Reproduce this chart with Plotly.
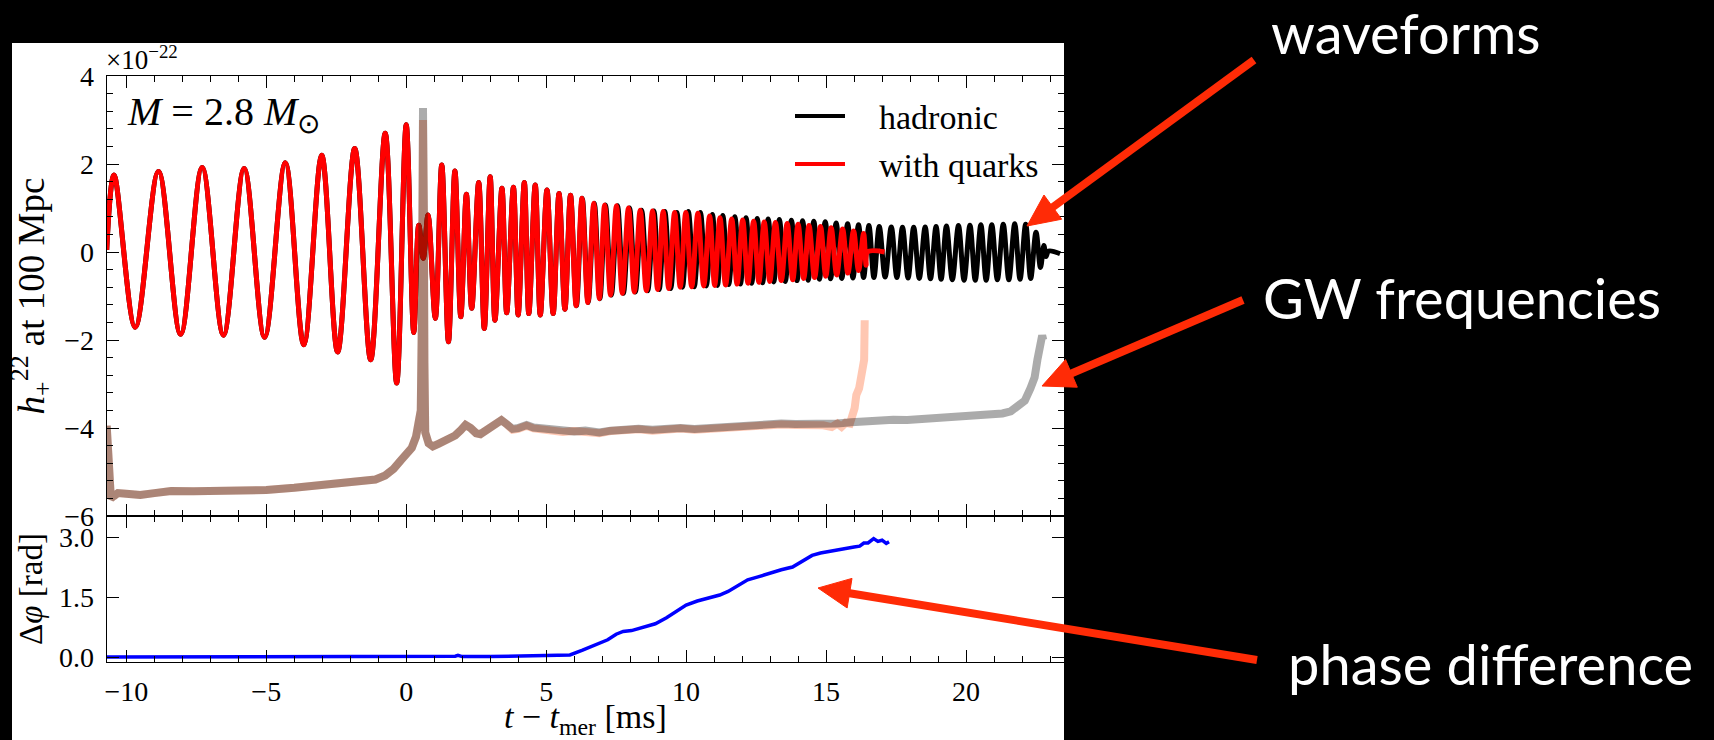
import math
import plotly.graph_objects as go

# ---------------- data ----------------
# shared inspiral + merger part of h+ (extrema), t in ms, h in 1e-22
insp_t = [-10.70, -10.44, -9.68, -8.85, -8.06, -7.29, -6.53, -5.79, -5.06, -4.32,
          -3.66, -3.02, -2.45, -1.84, -1.27, -0.75, -0.34, 0.00, 0.27, 0.45,
          0.61, 0.78, 1.04, 1.27, 1.51, 1.74, 1.95, 2.15, 2.34, 2.59,
          2.79, 3.00, 3.17, 3.42, 3.59, 3.83, 4.00, 4.22, 4.38, 4.61, 4.79]
insp_h = [0.05, 1.75, -1.71, 1.83, -1.87, 1.92, -1.89, 1.90, -1.94, 2.03,
          -2.11, 2.20, -2.27, 2.35, -2.45, 2.70, -2.98, 2.89, -1.83, 0.61,
          -0.14, 0.84, -1.51, 1.98, -2.04, 1.84, -1.47, 1.31, -1.28, 1.58,
          -1.74, 1.71, -1.55, 1.45, -1.38, 1.47, -1.43, 1.58, -1.40, 1.52, -1.43]

# hadronic post-merger extrema
had_t = [5.03, 5.25, 5.46, 5.67, 5.87, 6.08, 6.29, 6.50, 6.72, 6.92,
         7.12, 7.33, 7.55, 7.76, 7.98, 8.19, 8.41, 8.63, 8.85, 9.04,
         9.24, 9.45, 9.67, 9.87, 10.08, 10.29, 10.51, 10.72, 10.94, 11.12,
         11.31, 11.52, 11.74, 11.94, 12.14, 12.34, 12.54, 12.73, 12.93, 13.13,
         13.33, 13.54, 13.76, 13.96, 14.16, 14.36, 14.56, 14.76, 14.97, 15.16,
         15.36, 15.56, 15.77, 15.96, 16.16, 16.34, 16.53, 16.71, 16.90, 17.11,
         17.33, 17.53, 17.73, 17.93, 18.13, 18.33, 18.54, 18.73, 18.93, 19.11,
         19.30, 19.51, 19.73, 19.93, 20.14, 20.33, 20.53, 20.72, 20.92, 21.12,
         21.33, 21.53, 21.74, 21.93, 22.13, 22.31, 22.50, 22.66, 22.78, 22.86,
         22.95, 23.36]
had_h = [1.41, -1.40, 1.33, -1.30, 1.29, -1.22, 1.22, -1.15, 1.11, -1.06,
         1.07, -0.98, 1.05, -0.94, 1.00, -0.91, 0.95, -0.88, 0.93, -0.85,
         0.92, -0.83, 0.90, -0.80, 0.92, -0.79, 0.90, -0.77, 0.85, -0.76,
         0.83, -0.74, 0.80, -0.73, 0.78, -0.71, 0.76, -0.70, 0.75, -0.68,
         0.74, -0.67, 0.72, -0.65, 0.71, -0.64, 0.70, -0.62, 0.69, -0.61,
         0.66, -0.60, 0.64, -0.59, 0.62, -0.58, 0.60, -0.58, 0.58, -0.57,
         0.57, -0.58, 0.56, -0.59, 0.56, -0.60, 0.57, -0.61, 0.58, -0.62,
         0.59, -0.63, 0.60, -0.64, 0.61, -0.64, 0.62, -0.64, 0.62, -0.63,
         0.63, -0.63, 0.64, -0.62, 0.63, -0.60, 0.45, -0.35, 0.15, -0.10,
         0.02, -0.04]

# with-quarks post-merger extrema
qrk_t = [5.03, 5.25, 5.46, 5.67, 5.87, 6.07, 6.28, 6.49, 6.70, 6.90,
         7.09, 7.30, 7.51, 7.72, 7.94, 8.15, 8.36, 8.58, 8.80, 8.98,
         9.18, 9.38, 9.59, 9.79, 9.99, 10.20, 10.42, 10.63, 10.84, 11.02,
         11.21, 11.41, 11.63, 11.82, 12.02, 12.21, 12.41, 12.60, 12.79, 12.99,
         13.19, 13.40, 13.61, 13.81, 14.00, 14.20, 14.39, 14.59, 14.80, 14.99,
         15.18, 15.38, 15.59, 15.78, 15.98, 16.16, 16.34, 16.43, 16.48, 17.09]
qrk_h = [1.41, -1.40, 1.33, -1.30, 1.29, -1.22, 1.22, -1.15, 1.11, -1.06,
         1.07, -0.98, 1.05, -0.94, 1.00, -0.91, 0.95, -0.88, 0.93, -0.85,
         0.92, -0.83, 0.90, -0.80, 0.90, -0.79, 0.88, -0.77, 0.82, -0.76,
         0.78, -0.75, 0.75, -0.73, 0.73, -0.71, 0.70, -0.69, 0.68, -0.67,
         0.67, -0.65, 0.65, -0.63, 0.63, -0.60, 0.60, -0.58, 0.58, -0.55,
         0.55, -0.52, 0.52, -0.48, 0.48, -0.42, 0.42, -0.30, 0.00, 0.00]

# GW frequency curves (plotted in the same panel, arbitrary units)
fhad_t = [-10.70, -10.66, -10.60, -10.55, -10.45, -10.30, -9.90, -9.50, -9.00, -8.40,
          -7.60, -6.80, -6.00, -5.00, -4.00, -3.20, -2.40, -1.60, -1.10, -0.75,
          -0.45, -0.20, 0.05, 0.20, 0.35, 0.45, 0.52, 0.56, 0.58, 0.60,
          0.63, 0.65, 0.68, 0.80, 0.95, 1.15, 1.35, 1.55, 1.75, 1.95,
          2.12, 2.30, 2.50, 2.65, 2.85, 3.05, 3.25, 3.40, 3.60, 3.80,
          4.00, 4.30, 4.55, 4.80, 5.20, 5.60, 6.00, 6.40, 6.90, 7.30,
          7.80, 8.30, 8.80, 9.30, 9.80, 10.30, 10.90, 11.40, 11.90, 12.40,
          12.90, 13.40, 13.90, 14.40, 14.90, 15.40, 15.90, 16.40, 16.90, 17.40,
          17.90, 18.40, 18.90, 19.40, 19.90, 20.40, 20.90, 21.30, 21.60, 21.90,
          22.10, 22.30, 22.45, 22.55, 22.62, 22.68, 22.72, 22.76]
fhad_v = [-3.95, -4.60, -5.45, -5.60, -5.55, -5.48, -5.50, -5.52, -5.48, -5.43,
          -5.44, -5.44, -5.43, -5.41, -5.36, -5.32, -5.28, -5.23, -5.17, -5.08,
          -4.93, -4.74, -4.55, -4.45, -4.20, -3.95, -3.60, -1.50, 1.00, 3.27,
          1.00, -2.50, -4.10, -4.35, -4.42, -4.36, -4.30, -4.26, -4.17, -4.05,
          -3.93, -4.00, -4.12, -4.14, -4.05, -3.98, -3.86, -3.82, -3.92, -4.02,
          -4.00, -3.93, -3.99, -4.01, -4.03, -4.07, -4.08, -4.06, -4.10, -4.06,
          -4.03, -4.02, -4.04, -4.01, -4.00, -4.02, -3.99, -3.98, -3.96, -3.93,
          -3.92, -3.90, -3.91, -3.91, -3.92, -3.90, -3.87, -3.84, -3.80, -3.81,
          -3.82, -3.80, -3.79, -3.76, -3.75, -3.73, -3.70, -3.67, -3.62, -3.50,
          -3.38, -3.10, -2.85, -2.45, -2.20, -1.95, -1.90, -2.00]

fqrk_t = [-10.70, -10.66, -10.60, -10.55, -10.45, -10.30, -9.90, -9.50, -9.00, -8.40,
          -7.60, -6.80, -6.00, -5.00, -4.00, -3.20, -2.40, -1.60, -1.10, -0.75,
          -0.45, -0.20, 0.05, 0.20, 0.35, 0.45, 0.52, 0.56, 0.58, 0.60,
          0.63, 0.65, 0.68, 0.80, 0.95, 1.15, 1.35, 1.55, 1.75, 1.95,
          2.12, 2.30, 2.50, 2.65, 2.85, 3.05, 3.25, 3.40, 3.60, 3.80,
          4.00, 4.30, 4.55, 4.80, 5.20, 5.60, 6.00, 6.40, 6.90, 7.30,
          7.80, 8.30, 8.80, 9.30, 9.80, 10.30, 10.90, 11.40, 11.90, 12.40,
          12.90, 13.40, 13.90, 14.40, 14.90, 15.20, 15.40, 15.55, 15.70, 15.85,
          15.95, 16.02, 16.08, 16.18, 16.25, 16.32, 16.36, 16.37, 16.38]
fqrk_v = [-3.95, -4.60, -5.45, -5.60, -5.55, -5.48, -5.50, -5.52, -5.48, -5.43,
          -5.44, -5.44, -5.43, -5.41, -5.36, -5.32, -5.28, -5.23, -5.17, -5.08,
          -4.93, -4.74, -4.55, -4.45, -4.20, -3.95, -3.60, -1.50, 1.00, 3.00,
          1.00, -2.50, -4.10, -4.35, -4.42, -4.36, -4.30, -4.26, -4.17, -4.05,
          -3.93, -4.00, -4.12, -4.14, -4.05, -3.98, -3.86, -3.82, -3.92, -4.04,
          -4.02, -3.95, -4.01, -4.03, -4.05, -4.09, -4.07, -4.08, -4.12, -4.07,
          -4.05, -4.03, -4.06, -4.02, -4.01, -4.04, -4.01, -3.99, -3.97, -3.95,
          -3.93, -3.92, -3.93, -3.92, -3.94, -3.98, -3.90, -3.97, -3.88, -3.90,
          -3.75, -3.55, -3.25, -3.10, -2.85, -2.62, -2.45, -2.00, -1.55]

# phase difference (rad)
dphi_t = [-10.70, -8.00, -5.00, -2.00, 0.00, 1.50, 1.75, 1.85, 2.00, 3.00,
          4.00, 5.00, 5.50, 5.85, 6.30, 6.90, 7.20, 7.50, 7.75, 8.05,
          8.50, 8.90, 9.30, 9.70, 10.00, 10.40, 10.80, 11.20, 11.50, 11.90,
          12.20, 12.60, 13.00, 13.40, 13.80, 14.10, 14.50, 14.80, 15.20, 15.60,
          16.00, 16.20, 16.35, 16.50, 16.70, 16.85, 17.00, 17.15, 17.25]
dphi_v = [0.00, 0.00, 0.00, 0.00, 0.00, 0.01, 0.02, 0.04, 0.01, 0.01,
          0.02, 0.03, 0.04, 0.05, 0.17, 0.33, 0.43, 0.57, 0.64, 0.66,
          0.74, 0.83, 0.98, 1.17, 1.30, 1.40, 1.48, 1.55, 1.64, 1.80,
          1.93, 2.01, 2.10, 2.18, 2.25, 2.38, 2.54, 2.60, 2.64, 2.70,
          2.75, 2.77, 2.85, 2.85, 2.96, 2.89, 2.92, 2.84, 2.88]

dphi_tickvals = [0.0, 1.5, 3.0]
dphi_ticktext = ["0.0", "1.5", "3.0"]

# ---------------- layout geometry ----------------
W, H = 1714, 740


def px(x):
    return x / W


def py(y):
    return 1 - y / H


X0, X1 = 106.7, 1064
Y_TOP, Y_MID, Y_BOT = 76, 516, 662

SERIF = "Liberation Serif"
TICK = 28
fig = go.Figure()

fig.add_trace(go.Scatter(x=insp_t + had_t, y=insp_h + had_h, name="hadronic",
                         mode="lines", line=dict(color="black", width=5, shape="spline", smoothing=1.0),
                         xaxis="x", yaxis="y"))
fig.add_trace(go.Scatter(x=insp_t + qrk_t, y=insp_h + qrk_h, name="with quarks",
                         mode="lines", line=dict(color="#ff0000", width=5, shape="spline", smoothing=1.0),
                         xaxis="x", yaxis="y"))
fig.add_trace(go.Scatter(x=fqrk_t, y=fqrk_v, name="f quarks", mode="lines",
                         line=dict(color="rgba(255,69,0,0.30)", width=8),
                         xaxis="x", yaxis="y"))
fig.add_trace(go.Scatter(x=fhad_t, y=fhad_v, name="f hadronic", mode="lines",
                         line=dict(color="rgba(0,0,0,0.33)", width=8),
                         xaxis="x", yaxis="y"))
fig.add_trace(go.Scatter(x=dphi_t, y=dphi_v, name="phase difference", mode="lines",
                         line=dict(color="#0000ff", width=3.5),
                         xaxis="x2", yaxis="y2"))

axis_common = dict(showline=True, linecolor="black", linewidth=1.3, mirror="ticks",
                   ticks="inside", ticklen=12, tickwidth=1.3, tickcolor="black",
                   showgrid=False, zeroline=False, automargin=False,
                   tickfont=dict(family=SERIF, size=TICK, color="black"))

fig.update_layout(
    width=W, height=H, margin=dict(l=0, r=0, t=0, b=0, pad=0, autoexpand=False),
    paper_bgcolor="black", plot_bgcolor="white", showlegend=False,
    font=dict(family=SERIF, color="black"),
    xaxis=dict(domain=[px(X0), px(X1)], range=[-10.7, 23.5], anchor="y",
               showticklabels=False, tick0=0, dtick=5,
               minor=dict(ticks="inside", ticklen=6, tickwidth=1.2, tickcolor="black", dtick=1, showgrid=False),
               **axis_common),
    yaxis=dict(domain=[py(Y_MID), py(Y_TOP)], range=[-6, 4], anchor="x",
               tick0=0, dtick=2, ticklabelstandoff=6,
               minor=dict(ticks="inside", ticklen=6, tickwidth=1.2, tickcolor="black", dtick=0.4, showgrid=False),
               title=dict(text="<i>h</i><sub>+</sub><sup>22</sup> at 100 Mpc",
                          font=dict(family=SERIF, size=37, color="black"), standoff=8),
               **axis_common),
    xaxis2=dict(domain=[px(X0), px(X1)], range=[-10.7, 23.5], anchor="y2", matches="x",
                tick0=0, dtick=5, ticklabelstandoff=4,
                minor=dict(ticks="inside", ticklen=6, tickwidth=1.2, tickcolor="black", dtick=1, showgrid=False),
                title=dict(text="<i>t</i> − <i>t</i><sub>mer</sub> [ms]",
                           font=dict(family=SERIF, size=34, color="black"), standoff=4),
                **axis_common),
    yaxis2=dict(domain=[py(Y_BOT), py(Y_MID)], range=[-0.125, 3.525], anchor="x2",
                tickmode="array", tickvals=dphi_tickvals, ticktext=dphi_ticktext,
                ticklabelstandoff=6,
                title=dict(text="Δ<i>φ</i> [rad]",
                           font=dict(family=SERIF, size=33, color="black"), standoff=6),
                **axis_common),
)

shapes = []
# white figure panel on black slide
shapes.append(dict(type="rect", xref="paper", yref="paper", x0=px(12), x1=px(1064),
                   y0=0, y1=py(43), fillcolor="white", line=dict(width=0), layer="below"))
# legend handles
shapes.append(dict(type="line", xref="paper", yref="paper", x0=px(795), x1=px(845),
                   y0=py(116), y1=py(116), line=dict(color="black", width=4)))
shapes.append(dict(type="line", xref="paper", yref="paper", x0=px(795), x1=px(845),
                   y0=py(164), y1=py(164), line=dict(color="#ff0000", width=4)))

ARROW = "#ff2b06"


def arrow(tail, tip, lw=8, hl=32, hw=30):
    dx, dy = tip[0] - tail[0], tip[1] - tail[1]
    L = math.hypot(dx, dy)
    ux, uy = dx / L, dy / L
    bx, by = tip[0] - ux * hl, tip[1] - uy * hl
    nx, ny = -uy, ux
    p1 = (bx + nx * hw / 2, by + ny * hw / 2)
    p2 = (bx - nx * hw / 2, by - ny * hw / 2)
    se = (bx + ux * 3, by + uy * 3)
    line = dict(type="line", xref="paper", yref="paper",
                x0=px(tail[0]), y0=py(tail[1]), x1=px(se[0]), y1=py(se[1]),
                line=dict(color=ARROW, width=lw))
    path = "M {},{} L {},{} L {},{} Z".format(px(tip[0]), py(tip[1]), px(p1[0]), py(p1[1]),
                                              px(p2[0]), py(p2[1]))
    head = dict(type="path", xref="paper", yref="paper", path=path,
                fillcolor=ARROW, line=dict(color=ARROW, width=1))
    return [line, head]


shapes += arrow((1254, 60), (1027, 226))
shapes += arrow((1243, 300), (1042, 386))
shapes += arrow((1257, 660), (818, 588))

fig.update_layout(shapes=shapes)

ann = []
ann.append(dict(text="×10<sup>−22</sup>", x=px(104), y=py(77), xref="paper", yref="paper",
                xanchor="left", yanchor="bottom", showarrow=False,
                font=dict(family=SERIF, size=27, color="black")))
ann.append(dict(text="<i>M</i> = 2.8 <i>M</i><sub>⊙</sub>", x=px(125), y=py(114), xref="paper", yref="paper",
                xanchor="left", yanchor="middle", showarrow=False,
                font=dict(family=SERIF, size=40, color="black")))
ann.append(dict(text="hadronic", x=px(877), y=py(117), xref="paper", yref="paper",
                xanchor="left", yanchor="middle", showarrow=False,
                font=dict(family=SERIF, size=34, color="black")))
ann.append(dict(text="with quarks", x=px(877), y=py(165), xref="paper", yref="paper",
                xanchor="left", yanchor="middle", showarrow=False,
                font=dict(family=SERIF, size=34, color="black")))
for txt, cx, cy in [("waveforms", 1405, 33), ("GW frequencies", 1462, 297), ("phase difference", 1490, 663)]:
    ann.append(dict(text=txt, x=px(cx), y=py(cy), xref="paper", yref="paper",
                    xanchor="center", yanchor="middle", showarrow=False,
                    font=dict(family="Lato", size=56, color="white")))
fig.update_layout(annotations=ann)

fig.write_html("out.html")
